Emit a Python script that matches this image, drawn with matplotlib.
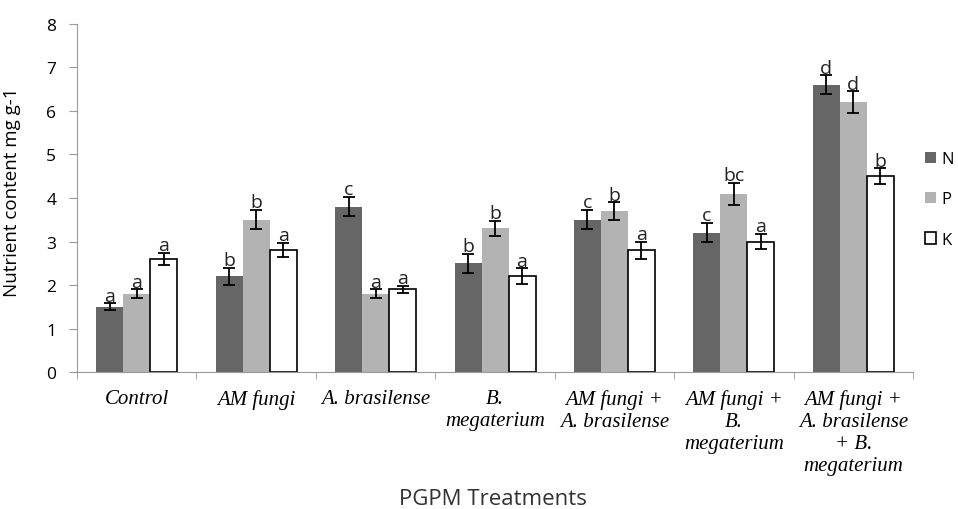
import numpy as np
import matplotlib.pyplot as plt

# Datos del gráfico
treatments = ["Control", "AM fungi", "A. brasilense", "B.\nmegaterium",
              "AM fungi +\nA. brasilense", "AM fungi +\nB.\nmegaterium",
              "AM fungi +\nA. brasilense\n+ B.\nmegaterium"]
nutrients = ["N", "P", "K"]
n_vals = [1.5, 2.2, 3.8, 2.5, 3.5, 3.2, 6.6]
p_vals = [1.8, 3.5, 1.8, 3.3, 3.7, 4.1, 6.2]
k_vals = [2.6, 2.8, 1.9, 2.2, 2.8, 3.0, 4.5]
n_err = [0.08, 0.2, 0.22, 0.22, 0.22, 0.22, 0.22]
p_err = [0.1, 0.22, 0.1, 0.18, 0.2, 0.25, 0.25]
k_err = [0.13, 0.16, 0.08, 0.18, 0.2, 0.18, 0.18]
n_letters = ["a", "b", "c", "b", "c", "c", "d"]
p_letters = ["a", "b", "a", "b", "b", "bc", "d"]
k_letters = ["a", "a", "a", "a", "a", "a", "b"]

values = [n_vals, p_vals, k_vals]
errors = [n_err, p_err, k_err]
letters = [n_letters, p_letters, k_letters]
colors = ["#666666", "#b3b3b3", "white"]
edges = ["#666666", "#b3b3b3", "black"]

fig = plt.figure(figsize=(9.58, 5.10), dpi=100)
ax = fig.add_axes([0.0804, 0.2686, 0.8727, 0.6824])

x = np.arange(len(treatments))
w = 0.226
for i in range(3):
    pos = x + (i - 1) * w
    ax.bar(pos, values[i], w, color=colors[i], edgecolor=edges[i],
           linewidth=1.2 if i == 2 else 0, label=nutrients[i], zorder=2)
    ax.errorbar(pos, values[i], yerr=errors[i], fmt="none", ecolor="black",
                elinewidth=1.3, capsize=4, capthick=1.3, zorder=3)
    for j in range(len(treatments)):
        ax.annotate(letters[i][j], (pos[j], values[i][j] + errors[i][j]),
                    xytext=(0, 2), textcoords="offset points",
                    ha="center", va="baseline", fontsize=14, family="Open Sans",
                    color="#222222", zorder=4)

ax.set_xlim(-0.5, len(treatments) - 0.5)
ax.set_ylim(0, 8)
ax.set_yticks(range(0, 9))
ax.tick_params(axis="y", labelsize=12.5, length=6, pad=9, color="#999999")
for lab in ax.get_yticklabels():
    lab.set_family("Open Sans")

ax.set_xticks(np.arange(len(treatments) + 1) - 0.5, minor=True)
ax.set_xticks(x)
ax.set_xticklabels(treatments, fontsize=15, family="Liberation Serif",
                   style="italic", linespacing=1.22, va="top")
ax.tick_params(axis="x", which="major", length=0, pad=12)
ax.tick_params(axis="x", which="minor", length=5, color="#999999")

for s in ["top", "right"]:
    ax.spines[s].set_visible(False)
ax.spines["left"].set_color("#999999")
ax.spines["bottom"].set_color("#999999")

ax.set_ylabel("Nutrient content mg g-1", fontsize=13.5, family="Open Sans")
ax.yaxis.set_label_coords(-0.067, 0.52)
fig.text(0.515, 0.021, "PGPM Treatments", fontsize=16, family="Open Sans",
         ha="center", va="center", color="#333333")

leg = ax.legend(loc="center left", bbox_to_anchor=(0.996, 0.496), frameon=False,
                prop={"family": "Open Sans", "size": 12}, handlelength=0.7,
                handleheight=0.7, handletextpad=0.3, labelspacing=1.45)

plt.savefig("out.png", dpi=100)
